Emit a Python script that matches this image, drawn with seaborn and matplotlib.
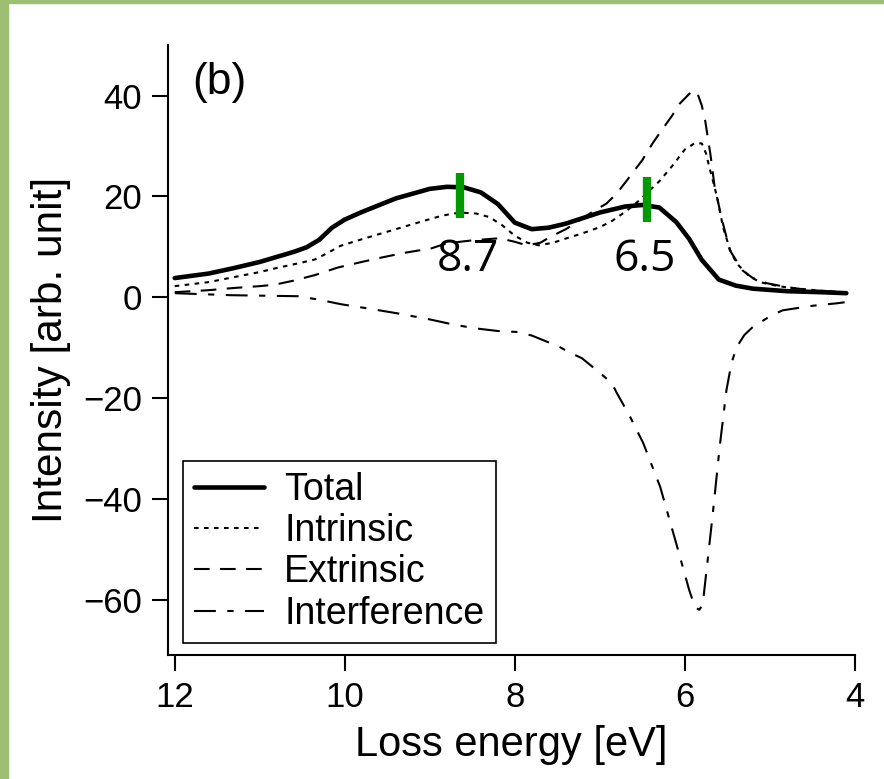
import numpy as np
import pandas as pd
import seaborn as sns
import matplotlib.pyplot as plt
from matplotlib.patches import Rectangle

# curves: loss energy [eV] -> intensity [arb. unit]
total_e = [12.0, 11.6, 11.3, 11.0, 10.8, 10.6, 10.45, 10.3, 10.15, 10.0, 9.8, 9.4, 9.0,
           8.8, 8.6, 8.4, 8.2, 8.0, 7.8, 7.6, 7.4, 7.0, 6.7, 6.5, 6.3, 6.1, 5.95, 5.8,
           5.6, 5.4, 5.2, 4.8, 4.4, 4.1]
total_i = [3.8, 4.7, 5.8, 7.0, 8.0, 9.0, 9.9, 11.4, 13.8, 15.4, 16.9, 19.6, 21.5,
           21.9, 21.8, 20.8, 18.5, 14.8, 13.5, 13.8, 14.6, 16.8, 18.0, 18.3, 17.8, 14.9, 11.6, 7.4,
           3.5, 2.3, 1.7, 1.2, 1.0, 0.8]

intrinsic_e = [12.0, 11.6, 11.3, 11.0, 10.8, 10.5, 10.35, 10.2, 10.05, 9.8, 9.56, 9.3, 9.06,
               8.85, 8.65, 8.45, 8.3, 8.15, 8.0, 7.85, 7.72, 7.55, 7.39, 7.2, 7.0, 6.85, 6.68,
               6.55, 6.45, 6.3, 6.15, 6.0, 5.88, 5.8, 5.75, 5.71, 5.66, 5.62, 5.55, 5.47, 5.39,
               5.25, 5.12, 4.9, 4.73, 4.4, 4.12]
intrinsic_i = [2.2, 3.0, 4.0, 5.0, 5.8, 6.9, 7.5, 8.8, 10.2, 11.5, 12.7, 14.0, 15.2,
               16.2, 16.8, 16.6, 15.9, 14.3, 12.2, 10.8, 10.3, 10.8, 11.7, 12.7, 13.9, 15.2, 17.2,
               19.0, 20.6, 23.0, 26.0, 29.3, 30.6, 30.5, 28.5, 25.7, 22.5, 19.8, 13.9, 9.5, 6.7,
               4.3, 3.0, 2.2, 1.8, 1.3, 1.0]

extrinsic_e = [12.0, 11.6, 11.33, 11.0, 10.82, 10.6, 10.35, 10.08, 9.8, 9.56, 9.3, 8.98,
               8.8, 8.49, 8.18, 8.0, 7.86, 7.7, 7.59, 7.4, 7.24, 7.1, 6.92, 6.8, 6.68, 6.5,
               6.38, 6.29, 6.15, 6.06, 5.95, 5.9, 5.85, 5.8, 5.76, 5.7, 5.65, 5.56, 5.47,
               5.32, 5.2, 5.04, 4.8, 4.53, 4.12]
extrinsic_i = [1.0, 1.4, 1.8, 2.2, 2.5, 3.3, 4.4, 5.9, 7.0, 7.9, 8.8, 9.7,
               10.7, 11.3, 11.7, 11.0, 10.3, 10.8, 11.9, 13.5, 15.2, 16.8, 18.6, 20.6, 23.2, 27.2,
               30.5, 32.7, 36.0, 38.4, 40.3, 41.0, 40.4, 38.0, 35.0, 28.5, 22.0, 15.2, 9.3,
               5.3, 3.8, 2.8, 2.0, 1.4, 1.0]

interference_e = [12.0, 11.33, 10.55, 10.3, 10.04, 9.7, 9.38, 9.0, 8.7, 8.45, 8.2, 7.96,
                  7.8, 7.61, 7.47, 7.35, 7.21, 7.05, 6.86, 6.8, 6.65, 6.49, 6.29, 6.09, 5.95,
                  5.88, 5.83, 5.79, 5.73, 5.67, 5.59, 5.51, 5.45, 5.39, 5.3, 5.2, 5.0, 4.85,
                  4.5, 4.21, 4.12]
interference_i = [0.8, 0.4, 0.2, -0.5, -1.4, -2.3, -3.2, -4.4, -5.5, -6.2, -6.7, -6.9,
                  -7.6, -8.9, -9.9, -11.0, -12.1, -14.3, -17.0, -19.0, -23.5, -28.9, -37.6, -49.5, -58.0,
                  -61.5, -62.0, -61.0, -52.0, -42.8, -29.7, -18.4, -13.0, -9.9, -7.5, -5.9, -3.8, -2.6,
                  -1.7, -1.2, -1.0]

series_names = ['Total', 'Intrinsic', 'Extrinsic', 'Interference']
series_e = [total_e, intrinsic_e, extrinsic_e, interference_e]
series_i = [total_i, intrinsic_i, extrinsic_i, interference_i]

# peak markers
peak_e = [8.65, 6.44]
peak_lo = [15.8, 14.9]
peak_hi = [24.6, 23.8]
peak_labels = ['8.7', '6.5']
peak_text_e = [8.55, 6.47]

x_ticks = [12, 10, 8, 6, 4]
y_ticks = [-60, -40, -20, 0, 20, 40]

styles = {
    'Total': dict(lw=3.3, ls='-'),
    'Intrinsic': dict(lw=1.5, ls=(0, (2.2, 2.6))),
    'Extrinsic': dict(lw=1.5, ls=(0, (7.5, 5))),
    'Interference': dict(lw=1.5, ls=(0, (10.5, 5.5, 3, 5.5))),
}

sns.set_style('ticks')
plt.rcParams['font.family'] = ['Liberation Sans', 'DejaVu Sans']
plt.rcParams.update({'text.color': 'black', 'axes.labelcolor': 'black',
                     'axes.edgecolor': 'black', 'xtick.color': 'black',
                     'ytick.color': 'black'})

fig = plt.figure(figsize=(8.84, 7.79), dpi=100)
ax = fig.add_axes([0.190, 0.159, 0.777, 0.783])

for name, e, i in zip(series_names, series_e, series_i):
    df = pd.DataFrame({'energy': e, 'intensity': i})
    sns.lineplot(data=df, x='energy', y='intensity', ax=ax, color='black',
                 label=name, sort=False, linewidth=styles[name]['lw'],
                 linestyle=styles[name]['ls'])

ax.vlines(peak_e, peak_lo, peak_hi, colors='#009a00', linewidth=6)
for e, lab in zip(peak_text_e, peak_labels):
    ax.text(e, 5.3, lab, fontsize=32, family=['Open Sans', 'DejaVu Sans'],
            ha='center', va='baseline')

ax.text(0.036, 0.938, '(b)', transform=ax.transAxes, fontsize=32,
        ha='left', va='center')

ax.set_xlim(12.08, 4.0)
ax.set_ylim(-71, 50)
ax.set_xticks(x_ticks)
ax.set_yticks(y_ticks)
ax.set_xlabel('Loss energy [eV]', fontsize=30, labelpad=8)
ax.set_ylabel('Intensity [arb. unit]', fontsize=30.5, labelpad=9)
ax.tick_params(direction='out', length=11.5, width=1.5, labelsize=25, pad=7)
sns.despine(ax=ax)
for s in ['left', 'bottom']:
    ax.spines[s].set_linewidth(1.5)

leg = ax.legend(loc='lower left', bbox_to_anchor=(0.022, 0.02), fontsize=27,
                frameon=True, fancybox=False, edgecolor='black', framealpha=1,
                handlelength=1.85, handletextpad=0.55, labelspacing=0.14,
                borderpad=0.3, borderaxespad=0)
leg.get_frame().set_linewidth(1.2)

# green frame strips on the left and top edges
fig.patches.append(Rectangle((0, 0), 8 / 884, 1, transform=fig.transFigure,
                             color='#9cbf72', zorder=-1))
fig.patches.append(Rectangle((0, 1 - 3 / 779), 1, 3 / 779, transform=fig.transFigure,
                             color='#9cbf72', zorder=-1))

fig.savefig('out.png', dpi=100)
